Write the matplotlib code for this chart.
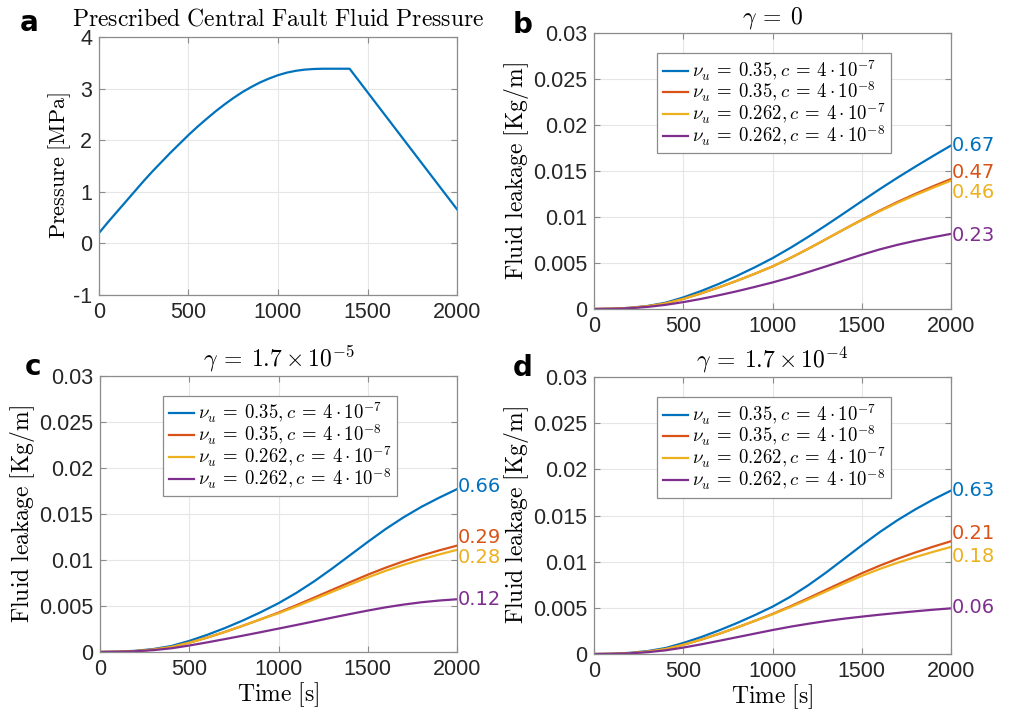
import numpy as np
import matplotlib.pyplot as plt

plt.rcParams['font.family'] = ['Liberation Sans', 'DejaVu Sans']
plt.rcParams['mathtext.fontset'] = 'cm'

# time axis shared by the leakage panels [s]
t = [0, 100, 200, 300, 400, 500, 600, 700, 800, 900, 1000,
     1100, 1200, 1300, 1400, 1500, 1600, 1700, 1800, 1900, 2000]

# prescribed pressure at the fault centre [MPa]
t_pres = [0, 50, 100, 150, 200, 250, 300, 350, 400, 450, 500, 550, 600, 650, 700,
          750, 800, 850, 900, 950, 1000, 1050, 1100, 1150, 1200, 1250, 1300, 1400, 2000]
pres = [0.20, 0.41, 0.61, 0.81, 1.01, 1.21, 1.40, 1.58, 1.76, 1.93, 2.10, 2.26, 2.41,
        2.555, 2.69, 2.815, 2.93, 3.03, 3.12, 3.195, 3.26, 3.31, 3.345, 3.368, 3.38,
        3.385, 3.385, 3.385, 0.66]

# fluid leakage [Kg/m], gamma = 0
leak_b = [
    [0, .00003, .00013, .00033, .00068, .00126, .00196, .00274, .00360, .00453, .00553,
     .00665, .00785, .00911, .01041, .01173, .01303, .01428, .01548, .01665, .01778],
    [0, .00003, .00012, .00030, .00060, .00110, .00170, .00236, .00307, .00383, .00463,
     .00555, .00655, .00760, .00866, .00970, .01070, .01164, .01252, .01335, .01414],
    [0, .00003, .00012, .00030, .00060, .00110, .00170, .00236, .00307, .00383, .00463,
     .00555, .00655, .00760, .00866, .00966, .01063, .01154, .01239, .01319, .01396],
    [0, .00002, .00009, .00023, .00045, .00075, .00110, .00150, .00193, .00240, .00289,
     .00343, .00402, .00464, .00527, .00590, .00648, .00698, .00742, .00781, .00817],
]
# gamma = 1.7e-5
leak_c = [
    [0, .00003, .00013, .00032, .00065, .00120, .00186, .00260, .00342, .00432, .00530,
     .00642, .00768, .00906, .01051, .01196, .01336, .01463, .01577, .01677, .01770],
    [0, .00002, .00010, .00026, .00054, .00100, .00156, .00218, .00285, .00355, .00428,
     .00508, .00591, .00675, .00758, .00840, .00916, .00985, .01047, .01104, .01156],
    [0, .00002, .00010, .00026, .00054, .00100, .00156, .00218, .00285, .00355, .00420,
     .00495, .00573, .00653, .00732, .00810, .00882, .00947, .01006, .01060, .01110],
    [0, .00002, .00008, .00020, .00040, .00070, .00104, .00140, .00177, .00215, .00254,
     .00293, .00333, .00373, .00412, .00450, .00485, .00515, .00540, .00559, .00573],
]
# gamma = 1.7e-4
leak_d = [
    [0, .00003, .00013, .00032, .00065, .00120, .00184, .00256, .00335, .00421, .00513,
     .00621, .00745, .00883, .01030, .01178, .01320, .01450, .01567, .01674, .01771],
    [0, .00002, .00010, .00026, .00054, .00100, .00156, .00219, .00287, .00359, .00434,
     .00517, .00605, .00696, .00786, .00875, .00957, .01032, .01100, .01163, .01222],
    [0, .00002, .00010, .00026, .00054, .00100, .00156, .00219, .00287, .00359, .00430,
     .00509, .00592, .00678, .00763, .00846, .00921, .00989, .01050, .01107, .01160],
    [0, .00002, .00008, .00020, .00040, .00070, .00105, .00143, .00182, .00221, .00260,
     .00296, .00328, .00357, .00383, .00405, .00426, .00445, .00463, .00480, .00495],
]

# numbers written at the end of each curve, and their heights
end_b = ['0.67', '0.47', '0.46', '0.23']
end_b_y = [0.0178, 0.0148, 0.01265, 0.0080]
end_c = ['0.66', '0.29', '0.28', '0.12']
end_c_y = [0.0180, 0.01247, 0.0103, 0.0057]
end_d = ['0.63', '0.21', '0.18', '0.06']
end_d_y = [0.0177, 0.0131, 0.01054, 0.0050]

legend_labels = [r'$\nu_u\:=\:0.35,c\:=\:4\cdot 10^{-7}$',
                 r'$\nu_u\:=\:0.35,c\:=\:4\cdot 10^{-8}$',
                 r'$\nu_u\:=\:0.262,c\:=\:4\cdot 10^{-7}$',
                 r'$\nu_u\:=\:0.262,c\:=\:4\cdot 10^{-8}$']
colors = ['#0072BD', '#D95319', '#EDB120', '#7E2F8E']

leak_ticks = [0, 0.005, 0.01, 0.015, 0.02, 0.025, 0.03]
leak_ticklabels = ['0', '0.005', '0.01', '0.015', '0.02', '0.025', '0.03']
time_ticks = [0, 500, 1000, 1500, 2000]

fig = plt.figure(figsize=(10.12, 7.13), dpi=100)


def style_axes(ax):
    ax.grid(True, color='#e6e6e6', lw=0.8)
    ax.set_axisbelow(True)
    for s in ax.spines.values():
        s.set_color('#8c8c8c')
        s.set_linewidth(0.9)
    ax.tick_params(direction='in', length=4, width=0.8, color='#8c8c8c',
                   labelsize=15.5, labelcolor='#262626', top=True, right=True, pad=5)
    ax.set_xlim(0, 2000)
    ax.set_xticks(time_ticks)
    ax.set_xticklabels([str(v) for v in time_ticks])


def leak_panel(rect, series, ends, ends_y, title, letter, xlabel=False):
    ax = fig.add_axes(rect)
    style_axes(ax)
    for y, c, lab in zip(series, colors, legend_labels):
        ax.plot(t, y, color=c, lw=1.6, label=lab)
    ax.set_ylim(0, 0.03)
    ax.set_yticks(leak_ticks)
    ax.set_yticklabels(leak_ticklabels)
    for txt, yy, c in zip(ends, ends_y, colors):
        ax.text(2003, yy, txt, color=c, fontsize=14, family='DejaVu Sans',
                va='center', ha='left')
    ax.set_title(title, fontsize=17, pad=7)
    ax.set_ylabel(r'$\mathrm{Fluid\ leakage\ [Kg/m]}$', fontsize=17, labelpad=1)
    if xlabel:
        ax.set_xlabel(r'$\mathrm{Time\ [s]}$', fontsize=17, labelpad=0)
    leg = ax.legend(loc='upper center', bbox_to_anchor=(0.505, 0.928), fontsize=13.5,
                    borderaxespad=0, fancybox=False, framealpha=1, edgecolor='#8c8c8c',
                    handlelength=1.35, handletextpad=0.2, labelspacing=-0.12,
                    borderpad=0.3)
    leg.get_frame().set_linewidth(0.9)
    fig.text(rect[0] - 0.074 if letter == 'c' else rect[0] - 0.080,
             rect[1] + rect[3] + 0.012, letter, fontsize=20, fontweight='bold',
             family='DejaVu Sans', ha='left', va='center')
    return ax


# panel a: prescribed pressure
ax_a = fig.add_axes([0.0978, 0.5863, 0.3538, 0.3618])
style_axes(ax_a)
ax_a.plot(t_pres, pres, color=colors[0], lw=1.6)
ax_a.set_ylim(-1, 4)
ax_a.set_yticks([-1, 0, 1, 2, 3, 4])
ax_a.set_yticklabels(['-1', '0', '1', '2', '3', '4'])
ax_a.set_title(r'$\mathrm{Prescribed\ Central\ Fault\ Fluid\ Pressure}$', fontsize=17, pad=8)
ax_a.set_ylabel(r'$\mathrm{Pressure\ [MPa]}$', fontsize=16, labelpad=0)
fig.text(0.02, 0.968, 'a', fontsize=20, fontweight='bold', family='DejaVu Sans',
         ha='left', va='center')

leak_panel([0.587, 0.5666, 0.3528, 0.387], leak_b, end_b, end_b_y,
           r'$\gamma\:=\:0$', 'b')
leak_panel([0.0988, 0.0856, 0.3528, 0.3871], leak_c, end_c, end_c_y,
           r'$\gamma\:=\:1.7\times 10^{-5}$', 'c', xlabel=True)
leak_panel([0.587, 0.0827, 0.3528, 0.3885], leak_d, end_d, end_d_y,
           r'$\gamma\:=\:1.7\times 10^{-4}$', 'd', xlabel=True)

fig.savefig('out.png', dpi=100)
